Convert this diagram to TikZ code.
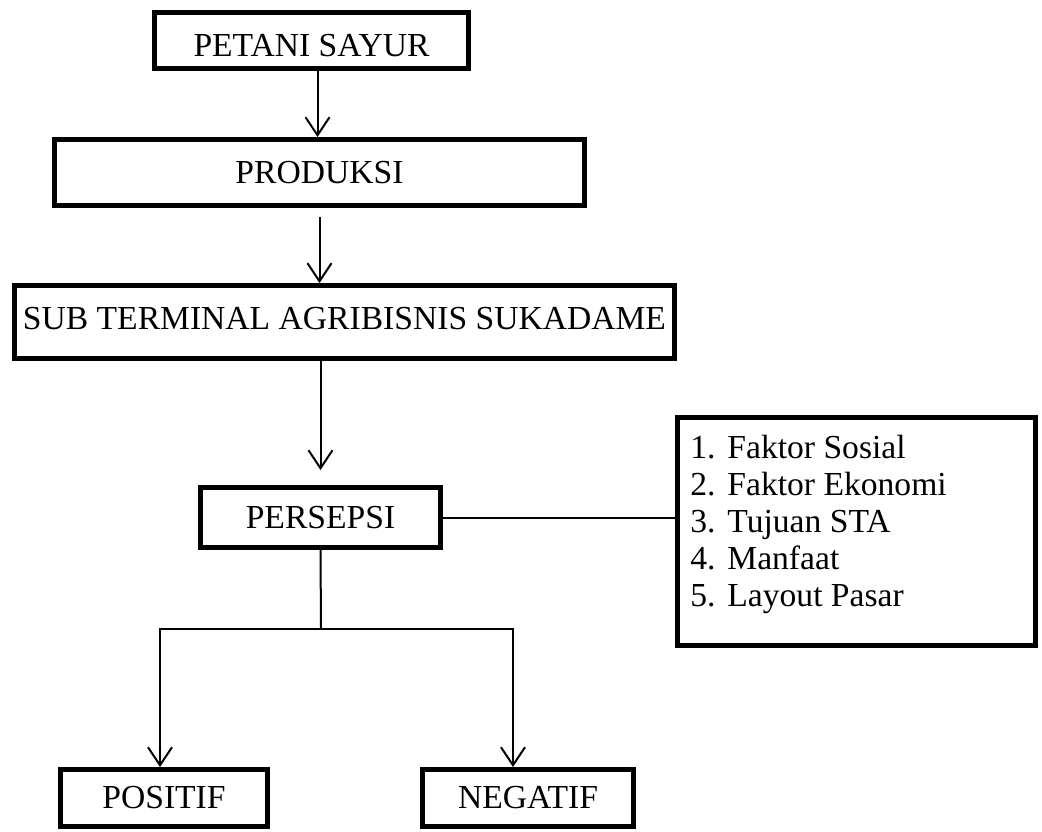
\documentclass[tikz,border=0pt]{standalone}
\usepackage{fontspec}
\setmainfont{Liberation Serif}
\usetikzlibrary{arrows.meta}

\newcommand{\butir}[1]{\makebox[18.5pt][l]{#1}}

\begin{document}
\begin{tikzpicture}[x=0.5pt, y=-0.5pt,
    kotak/.style={draw, line width=2.5pt, inner sep=0pt, font=\fontsize{16.8}{18.5}\selectfont},
    panah/.style={line width=1pt, -{Straight Barb[length=9pt, width=12pt]}}]
    \useasboundingbox (0,0) rectangle (1042,831);

    % Petani sayur
    \node[kotak, minimum width=157pt, minimum height=28pt, text height=16pt, text depth=0pt] (petani) at (311.5,40.5) {PETANI SAYUR};

    % Produksi
    \node[kotak, minimum width=265pt, minimum height=33pt] (produksi) at (319.5,172.5) {PRODUKSI};

    % STA
    \node[kotak, minimum width=330pt, minimum height=36.5pt, text height=11.1pt, text depth=4pt] (sta) at (344.5,322) {SUB TERMINAL AGRIBISNIS SUKADAME};

    % Persepsi
    \node[kotak, minimum width=120pt, minimum height=30pt] (persepsi) at (320.5,517.5) {PERSEPSI};

    % Faktor
    \node[kotak, minimum width=179pt, minimum height=114pt] (faktor) at (856.5,531.5) {};
    \node[anchor=base west, inner sep=0pt, align=left, font=\fontsize{16.8}{18.5}\selectfont] (daftar) at (690,606)
        {\butir{1.}Faktor Sosial\\ \butir{2.}Faktor Ekonomi\\ \butir{3.}Tujuan STA\\ \butir{4.}Manfaat\\ \butir{5.}Layout Pasar};

    % Positif / Negatif
    \node[kotak, minimum width=103.5pt, minimum height=28.5pt] (positif) at (164,798) {POSITIF};
    \node[kotak, minimum width=105.5pt, minimum height=28.5pt] (negatif) at (528,798) {NEGATIF};

    % panah
    \draw[panah] ([xshift=3pt]petani.south) -- ([xshift=3pt]petani.south |- produksi.north);
    \draw[panah] ([yshift=-4.5pt]produksi.south) -- (produksi.south |- sta.north);
    \draw[panah] (persepsi.north |- sta.south) -- ([yshift=7.5pt]persepsi.north);
    \draw[line width=1pt] (persepsi.east) -- (persepsi.east -| faktor.west);

    % cabang
    \coordinate (cabang) at (321,629);
    \draw[line width=1pt] (persepsi.south) -- (cabang);
    \draw[panah] (cabang) -| ([xshift=-2pt]positif.north);
    \draw[panah] (cabang) -| ([xshift=-7.5pt]negatif.north);
\end{tikzpicture}
\end{document}
